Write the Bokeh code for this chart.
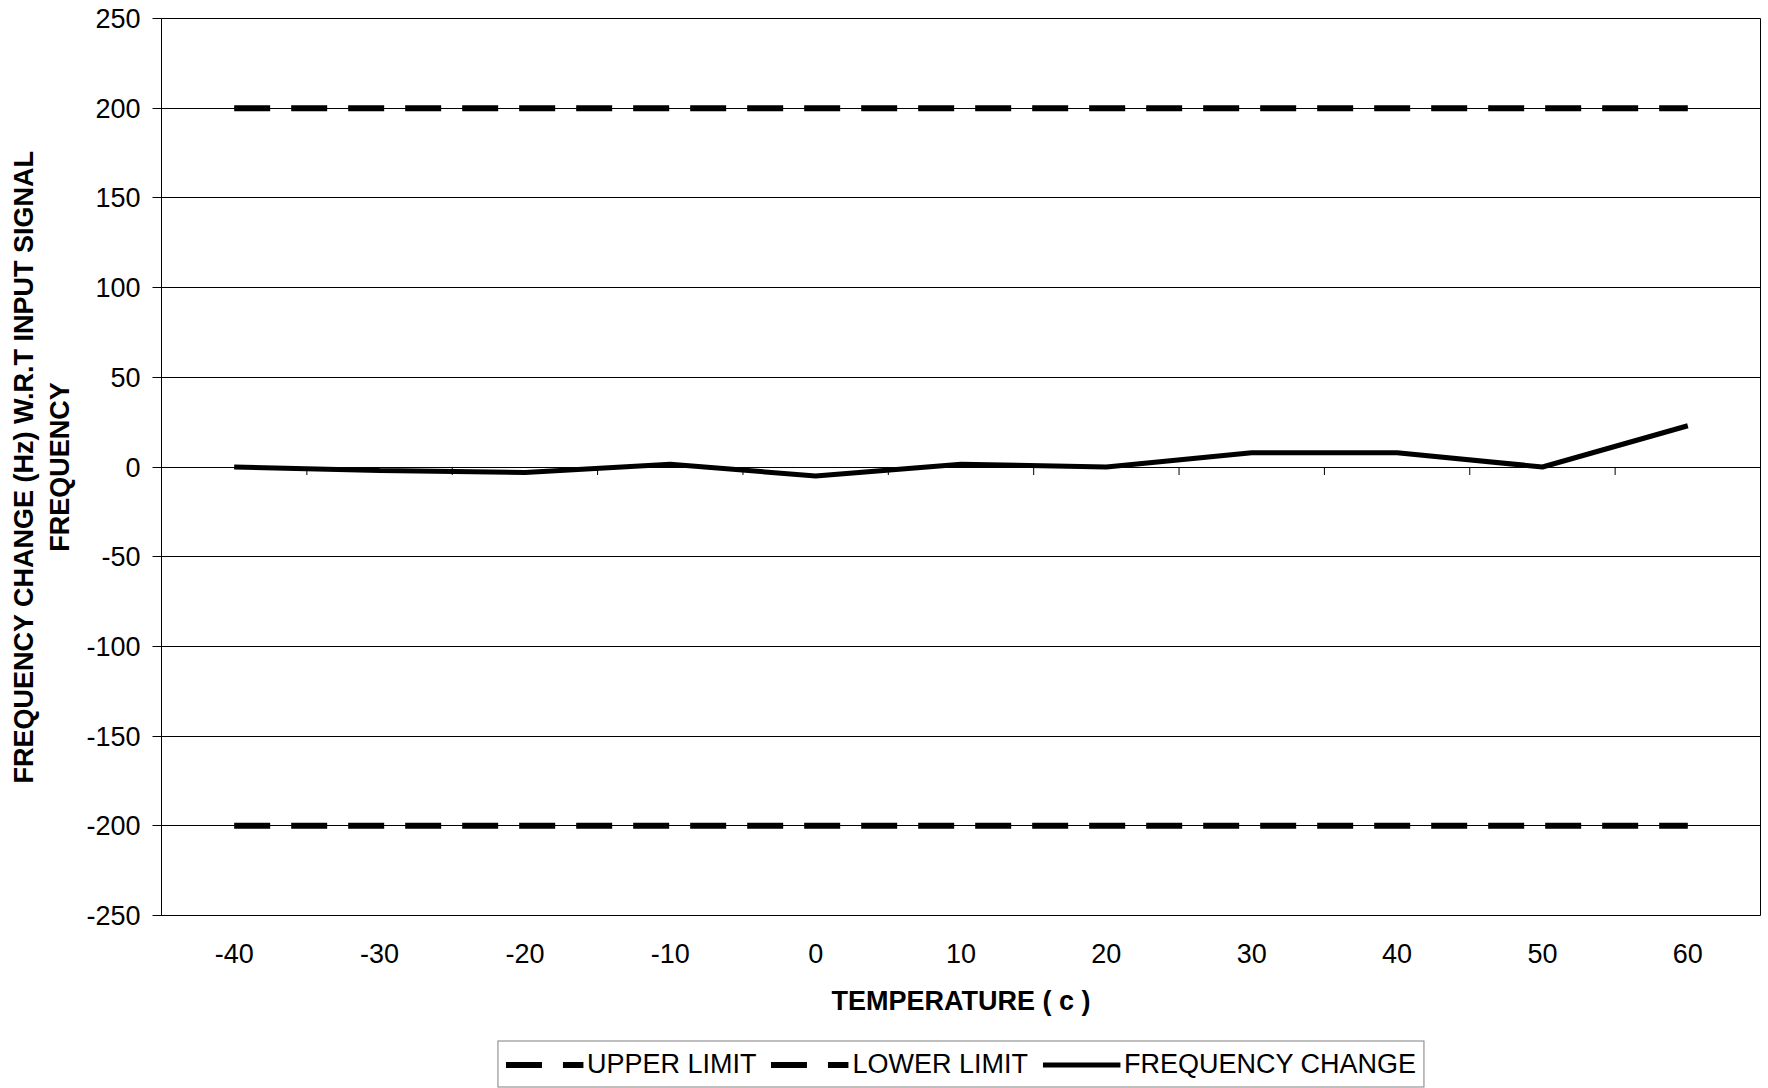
import math
from bokeh.plotting import figure
from bokeh.layouts import column
from bokeh.models import FixedTicker, Legend, LegendItem, Range1d
from bokeh.embed import file_html
from bokeh.resources import INLINE

# ---- data ----
temperatures = [-40, -30, -20, -10, 0, 10, 20, 30, 40, 50, 60]
upper_limit = [200, 200, 200, 200, 200, 200, 200, 200, 200, 200, 200]
lower_limit = [-200, -200, -200, -200, -200, -200, -200, -200, -200, -200, -200]
frequency_change = [0, -2, -3, 1.5, -5, 1.5, 0, 8, 8, 0, 23]
x_tick_labels = ["-40", "-30", "-20", "-10", "0", "10", "20", "30", "40", "50", "60"]
y_ticks = [-250, -200, -150, -100, -50, 0, 50, 100, 150, 200, 250]
y_tick_labels = ["-250", "-200", "-150", "-100", "-50", "0", "50", "100", "150", "200", "250"]
series_names = ["UPPER LIMIT", "LOWER LIMIT", "FREQUENCY CHANGE"]
x_title = "TEMPERATURE ( c )"
y_title = "FREQUENCY CHANGE (Hz) W.R.T INPUT SIGNAL\nFREQUENCY"

FONT = "Liberation Sans"
FS = "27px"

step = temperatures[1] - temperatures[0]
x_lo = temperatures[0] - step / 2
x_hi = temperatures[-1] + step / 2
boundaries = [(a + b) / 2 for a, b in zip(temperatures[:-1], temperatures[1:])]

UP_STYLE = dict(line_color="black", line_width=6, line_dash="36 21", line_cap="butt")
FC_STYLE = dict(line_color="black", line_width=5)

p = figure(width=1761, height=1040, output_backend="svg", toolbar_location=None,
           x_range=Range1d(x_lo, x_hi), y_range=Range1d(y_ticks[0], y_ticks[-1]),
           min_border_left=161, min_border_right=1, min_border_top=18,
           min_border_bottom=125)
p.background_fill_color = "white"
p.border_fill_color = "white"
p.outline_line_color = "black"
p.outline_line_width = 1

# grid
p.xgrid.grid_line_color = None
p.ygrid.grid_line_color = "black"
p.ygrid.grid_line_width = 1
p.ygrid.ticker = FixedTicker(ticks=y_ticks)

# y axis
ya = p.yaxis[0]
ya.ticker = FixedTicker(ticks=y_ticks)
ya.major_label_overrides = {v: s for v, s in zip(y_ticks, y_tick_labels)}
ya.axis_line_color = "black"
ya.major_tick_out = 9
ya.major_tick_in = 0
ya.minor_tick_line_color = None
ya.major_tick_line_color = "black"
ya.major_label_standoff = 12
ya.major_label_text_font = FONT
ya.major_label_text_font_size = FS
ya.major_label_text_color = "black"
ya.axis_label = y_title
ya.axis_label_text_font = FONT
ya.axis_label_text_font_size = FS
ya.axis_label_text_font_style = "bold"
ya.axis_label_text_color = "black"
ya.axis_label_standoff = 8

# x axis
xa = p.xaxis[0]
xa.ticker = FixedTicker(ticks=temperatures)
xa.major_label_overrides = {v: s for v, s in zip(temperatures, x_tick_labels)}
xa.axis_line_color = None
xa.major_tick_line_color = None
xa.minor_tick_line_color = None
xa.major_tick_out = 0
xa.major_tick_in = 0
xa.major_label_standoff = 28
xa.major_label_text_font = FONT
xa.major_label_text_font_size = FS
xa.major_label_text_color = "black"
xa.axis_label = x_title
xa.axis_label_text_font = FONT
xa.axis_label_text_font_size = FS
xa.axis_label_text_font_style = "bold"
xa.axis_label_text_color = "black"
xa.axis_label_standoff = 20

# category-boundary tick marks on the zero line
p.ray(x=boundaries, y=[0] * len(boundaries), length=8, length_units="screen",
      angle=-math.pi / 2, line_color="black", line_width=1)

p.line(temperatures, upper_limit, **UP_STYLE)
p.line(temperatures, lower_limit, **UP_STYLE)
p.line(temperatures, frequency_change, **FC_STYLE)

# ---- legend strip below the chart (its own lines lie outside its view) ----
lg = figure(width=1761, height=48, output_backend="svg", toolbar_location=None,
            x_range=Range1d(x_lo, x_hi), y_range=Range1d(300, 400),
            min_border_left=161, min_border_right=1, min_border_top=0,
            min_border_bottom=0)
lg.axis.visible = False
lg.grid.visible = False
lg.outline_line_color = None
lg.background_fill_color = "white"
lg.border_fill_color = "white"
l_up = lg.line(temperatures, upper_limit, **UP_STYLE)
l_lo = lg.line(temperatures, lower_limit, **UP_STYLE)
l_fc = lg.line(temperatures, frequency_change, **FC_STYLE)

legend = Legend(items=[LegendItem(label=series_names[0], renderers=[l_up]),
                       LegendItem(label=series_names[1], renderers=[l_lo]),
                       LegendItem(label=series_names[2], renderers=[l_fc])],
                location="center", orientation="horizontal")
legend.label_text_font = FONT
legend.label_text_font_size = FS
legend.label_text_color = "black"
legend.glyph_width = 78
legend.glyph_height = 30
legend.label_height = 30
legend.label_standoff = 4
legend.spacing = 14
legend.padding = 7
legend.margin = 0
legend.border_line_color = "black"
legend.border_line_width = 1
legend.background_fill_color = "white"
legend.background_fill_alpha = 1
lg.add_layout(legend)

layout = column(p, lg, spacing=0)
open("out.html", "w").write(file_html(layout, INLINE))
